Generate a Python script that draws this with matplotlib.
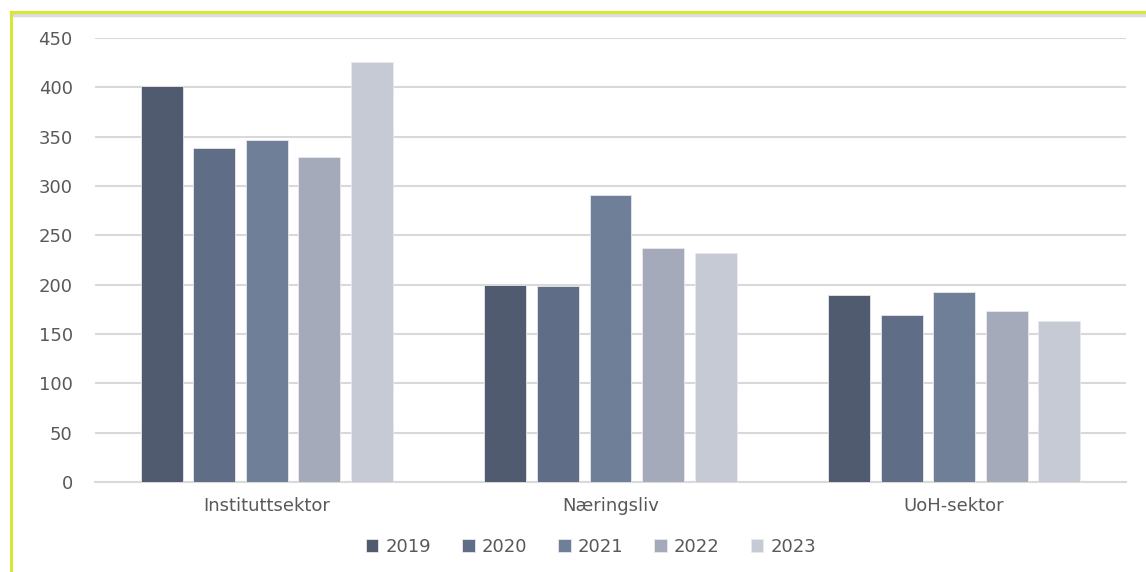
import matplotlib.pyplot as plt
from matplotlib.lines import Line2D
import numpy as np

plt.rcParams['font.family'] = ['DejaVu Sans']

categories = ['Instituttsektor', 'Næringsliv', 'UoH-sektor']
years = ['2019', '2020', '2021', '2022', '2023']
v2019 = [401, 200, 190]
v2020 = [339, 199, 169]
v2021 = [347, 291, 193]
v2022 = [329, 237, 173]
v2023 = [426, 232, 163]
series = [v2019, v2020, v2021, v2022, v2023]
colors = ['#515b70', '#5f6d86', '#6f7f98', '#a5aabb', '#c6cad5']

fig = plt.figure(figsize=(11.46, 5.72), dpi=100)
ax = fig.add_axes([95 / 1146, 1 - 482 / 572, (1126 - 95) / 1146, (482 - 38) / 572])

x = np.arange(len(categories))
step = 0.153
width = 0.122
for j, (vals, c, yr) in enumerate(zip(series, colors, years)):
    ax.bar(x + (j - 2) * step, vals, width, color=c, label=yr,
           edgecolor='#e8e8ee', linewidth=0.6, zorder=3)

ax.set_xlim(-0.5, 2.5)
ax.set_ylim(0, 450)
ax.set_yticks(range(0, 451, 50))
ax.set_xticks(x)
ax.set_xticklabels(categories)
ax.grid(axis='y', color='#d9d9d9', linewidth=1.5, zorder=0)
for s in ['top', 'right', 'left']:
    ax.spines[s].set_visible(False)
ax.spines['bottom'].set_color('#d9d9d9')
ax.spines['bottom'].set_linewidth(1.5)
ax.tick_params(axis='both', length=0, labelsize=13, colors='#595959')
ax.tick_params(axis='y', pad=16)
ax.tick_params(axis='x', pad=11)

leg = fig.legend(loc='center', bbox_to_anchor=(591 / 1146, 1 - 547 / 572), ncol=5,
                 frameon=False, fontsize=13, handlelength=0.7, handleheight=0.7,
                 columnspacing=1.7, handletextpad=0.4)
for t in leg.get_texts():
    t.set_color('#595959')

# frame border (top and left edges visible)
fig.add_artist(Line2D([11 / 1146, 1], [1 - 15 / 572, 1 - 15 / 572], color='#dcdcdc', lw=2.5))
fig.add_artist(Line2D([11 / 1146, 1], [1 - 12 / 572, 1 - 12 / 572], color='#d6e835', lw=2.2))
fig.add_artist(Line2D([11 / 1146, 11 / 1146], [0, 1 - 12 / 572], color='#d6e835', lw=2.2))

fig.savefig('out.png', dpi=100)
